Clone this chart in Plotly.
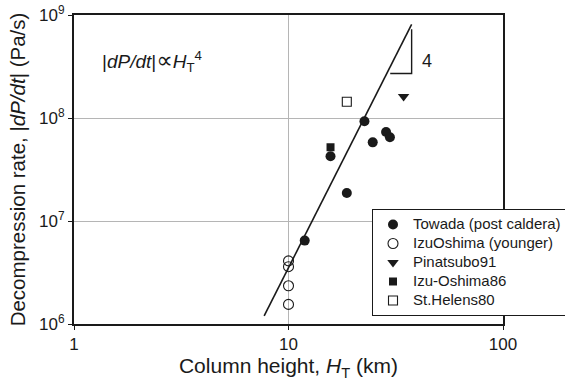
import plotly.graph_objects as go

# Towada (post caldera) eruptions: column height (km) vs decompression rate (Pa/s)
towada_h = [22.6, 24.7, 28.5, 29.7, 15.7, 18.7, 11.9]
towada_rate = [9.3e7, 5.8e7, 7.3e7, 6.5e7, 4.25e7, 1.87e7, 6.45e6]

# IzuOshima (younger)
izu_young_h = [10, 10, 10, 10]
izu_young_rate = [4.1e6, 3.6e6, 2.35e6, 1.55e6]

# Historic eruptions
pinatubo_h = [34.4]
pinatubo_rate = [1.62e8]
izu86_h = [15.7]
izu86_rate = [5.2e7]
helens_h = [18.7]
helens_rate = [1.44e8]

# Power-law trend |dP/dt| ~ H_T^4
trend_h = [7.7, 37.5]
trend_rate = [1.2e6, 8.1e8]

# Slope-4 indicator (vertical then horizontal leg)
slope_h = [37.5, 37.5, 29.8]
slope_rate = [7.26e8, 2.7e8, 2.7e8]

x_ticks = [1, 10, 100]
x_ticktext = ["1", "10", "100"]
y_ticks = [1e6, 1e7, 1e8, 1e9]
y_ticktext = ["10<sup>6</sup>", "10<sup>7</sup>", "10<sup>8</sup>", "10<sup>9</sup>"]

FONT = "Liberation Sans, Arial, sans-serif"
INK = "#1a1a1a"


def legend_label(text):
    # larger glyphs inside a compact legend row
    return '<span style="font-size:15px">' + text + "</span>"


fig = go.Figure()

fig.add_trace(go.Scatter(x=trend_h, y=trend_rate, mode="lines",
                         line=dict(color=INK, width=1.6), showlegend=False,
                         hoverinfo="skip"))
fig.add_trace(go.Scatter(x=slope_h, y=slope_rate, mode="lines",
                         line=dict(color=INK, width=1.4), showlegend=False,
                         hoverinfo="skip"))

fig.add_trace(go.Scatter(x=towada_h, y=towada_rate, mode="markers",
                         name=legend_label("Towada (post caldera)"),
                         marker=dict(symbol="circle", size=10, color=INK,
                                     line=dict(width=0))))
fig.add_trace(go.Scatter(x=izu_young_h, y=izu_young_rate, mode="markers",
                         name=legend_label("IzuOshima (younger)"),
                         marker=dict(symbol="circle-open", size=10, color=INK,
                                     line=dict(width=1.1))))
fig.add_trace(go.Scatter(x=pinatubo_h, y=pinatubo_rate, mode="markers",
                         name=legend_label("Pinatsubo91"),
                         marker=dict(symbol="triangle-down", size=10, color=INK,
                                     line=dict(width=0))))
fig.add_trace(go.Scatter(x=izu86_h, y=izu86_rate, mode="markers",
                         name=legend_label("Izu-Oshima86"),
                         marker=dict(symbol="square", size=8, color=INK,
                                     line=dict(width=0))))
fig.add_trace(go.Scatter(x=helens_h, y=helens_rate, mode="markers",
                         name=legend_label("St.Helens80"),
                         marker=dict(symbol="square-open", size=9, color=INK,
                                     line=dict(width=1.1))))

fig.add_annotation(x=0.06, y=0.85, xref="x domain", yref="y domain",
                   text="|<i>dP/dt</i>|<span style=\"font-family:DejaVu Sans;font-size:23px\">\u221d</span>"
                        "<i>H</i><sub>T</sub><sup>4</sup>",
                   showarrow=False, xanchor="left", yanchor="middle",
                   font=dict(family=FONT, size=19, color=INK))
fig.add_annotation(x=0.823, y=0.85, xref="x domain", yref="y domain",
                   text="4", showarrow=False, xanchor="center", yanchor="middle",
                   font=dict(family=FONT, size=18, color=INK))

axis_common = dict(
    showline=True, linewidth=2, linecolor=INK, mirror=True,
    ticks="outside", ticklen=4, tickwidth=1.2, tickcolor=INK,
    showgrid=True, gridcolor="#b5b5b5", gridwidth=1,
    zeroline=False, tickfont=dict(family=FONT, size=17, color=INK),
)

fig.update_xaxes(type="log", range=[0, 2], tickvals=x_ticks, ticktext=x_ticktext,
                 title=dict(text="Column height, <i>H</i><sub>T</sub> (km)",
                            font=dict(family=FONT, size=21, color=INK), standoff=3),
                 **axis_common)
fig.update_yaxes(type="log", range=[6, 9], tickvals=y_ticks, ticktext=y_ticktext,
                 title=dict(text="Decompression rate, |<i>dP/dt</i>| (Pa/s)",
                            font=dict(family=FONT, size=20.5, color=INK), standoff=8),
                 **axis_common)

fig.update_layout(
    width=565, height=385,
    margin=dict(l=74, r=62, t=15, b=61, autoexpand=False),
    paper_bgcolor="white", plot_bgcolor="white",
    font=dict(family=FONT, color=INK),
    legend=dict(xref="container", yref="container", x=372 / 565, y=1 - 209 / 385,
                xanchor="left", yanchor="top", bgcolor="white",
                bordercolor=INK, borderwidth=1,
                font=dict(family=FONT, size=12, color=INK),
                tracegroupgap=0),
)

fig.write_html("out.html")
